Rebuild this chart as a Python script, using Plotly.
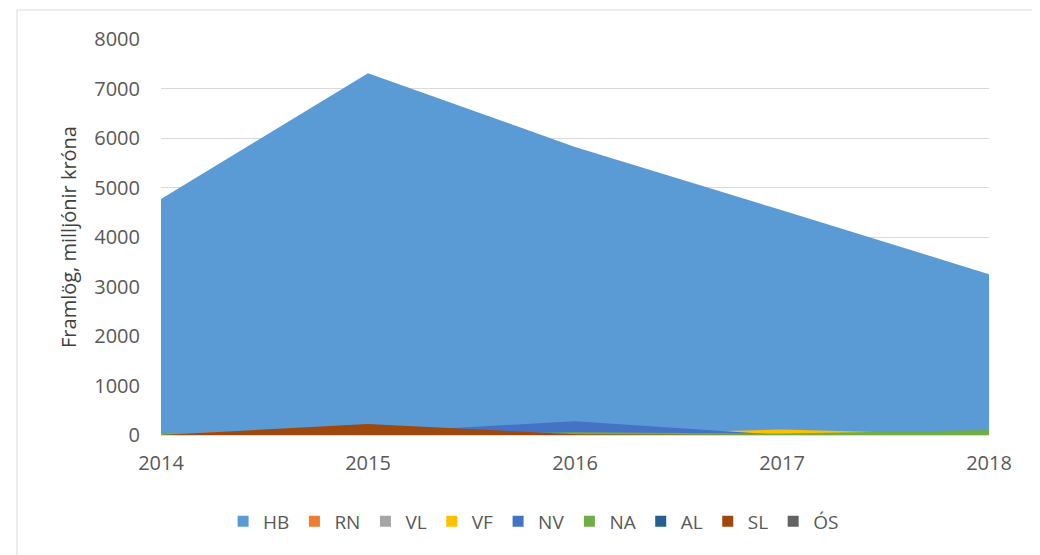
import plotly.graph_objects as go

years = [2014, 2015, 2016, 2017, 2018]
series_names = ["HB", "RN", "VL", "VF", "NV", "NA", "AL", "SL", "ÓS"]
HB = [4770, 7310, 5820, 4540, 3250]
RN = [10, 190, 20, 0, 0]
VL = [0, 0, 0, 0, 0]
VF = [0, 0, 0, 110, 0]
NV = [0, 40, 280, 0, 0]
NA = [45, 0, 55, 30, 100]
AL = [0, 0, 0, 0, 0]
SL = [0, 220, 15, 0, 0]
OS = [0, 0, 0, 0, 0]
colors = ["#5B9BD5", "#ED7D31", "#A5A5A5", "#FFC000", "#4472C4",
          "#70AD47", "#255E91", "#9E480E", "#636363"]
values = [HB, RN, VL, VF, NV, NA, AL, SL, OS]

fig = go.Figure()
for name, vals, col in zip(series_names, values, colors):
    fig.add_trace(go.Scatter(
        x=years, y=vals, name=name, mode="none", fill="tozeroy",
        fillcolor=col, line=dict(color=col, width=0), showlegend=False))
# legend entries with square symbols
for name, col in zip(series_names, colors):
    fig.add_trace(go.Scatter(
        x=[None], y=[None], name=name, mode="markers",
        marker=dict(symbol="square", size=11, color=col), showlegend=True))

L, T = 153, 31
PW, PH = 828, 396
fig.update_layout(
    width=1040, height=555,
    margin=dict(l=L, r=1040 - L - PW, t=T, b=555 - T - PH),
    paper_bgcolor="white", plot_bgcolor="white",
    font=dict(family="Open Sans, Liberation Sans, sans-serif", color="#595959", size=20),
    showlegend=True,
    legend=dict(orientation="h", x=0.45, xanchor="center", y=-0.17, yanchor="top",
                font=dict(size=19, color="#595959"), traceorder="normal",
                itemwidth=30, tracegroupgap=0),
    xaxis=dict(range=[2014, 2018], tickvals=years, ticktext=[str(y) for y in years],
               showgrid=False, zeroline=False, showline=True, linecolor="#D9D9D9",
               linewidth=1, ticks="", ticklabelstandoff=10,
               tickfont=dict(size=20, color="#595959")),
    yaxis=dict(range=[0, 8000], dtick=1000, showgrid=True, gridcolor="#D9D9D9",
               gridwidth=1, zeroline=False, showline=False, ticks="",
               ticklabelstandoff=20, tickfont=dict(size=20, color="#595959"),
               title=dict(text="Framlög, milljónir króna", standoff=12,
                          font=dict(size=20, color="#404040"))),
    shapes=[dict(type="rect", xref="paper", yref="paper",
                 x0=-(L - 9) / PW, x1=(1040 - L + 20) / PW,
                 y0=-(555 - T - PH + 20) / PH, y1=(PH + T - 2) / PH,
                 line=dict(color="#D9D9D9", width=1), layer="below")],
)

fig.write_html("out.html")
